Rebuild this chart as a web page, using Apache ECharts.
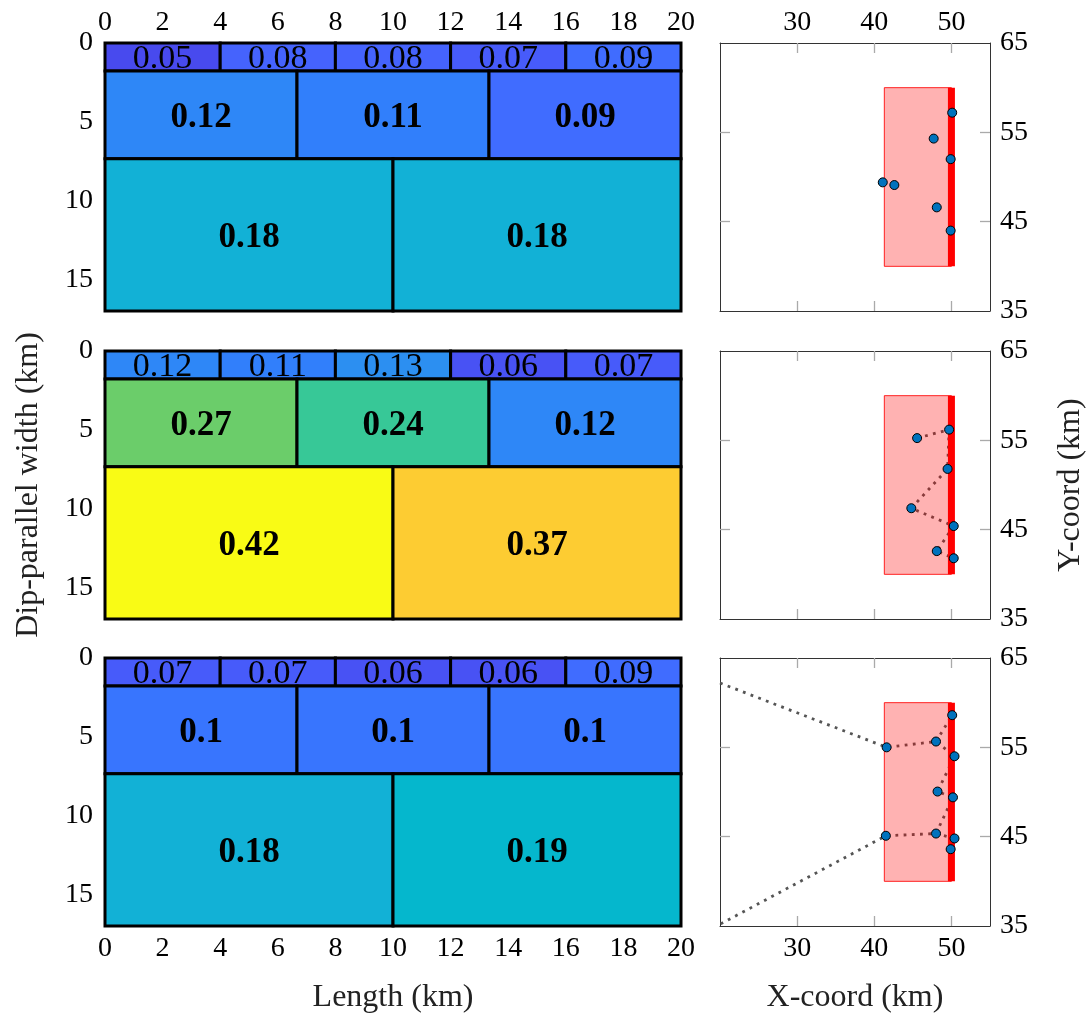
<!DOCTYPE html>
<html><head><meta charset="utf-8">
<script src="https://cdn.jsdelivr.net/npm/echarts@6/dist/echarts.min.js"></script>
<style>html,body{margin:0;padding:0;background:#fff}#c{width:1087px;height:1014px}</style>
</head><body><div id="c"></div><script>
// ---------- data ----------
const lengthEdges = [[0, 4, 8, 12, 16, 20], [0, 20 / 3, 40 / 3, 20], [0, 10, 20]];
const depthEdges = [0, 1.78, 7.35, 17];
const slip1 = [[0.05, 0.08, 0.08, 0.07, 0.09], [0.12, 0.11, 0.09], [0.18, 0.18]];
const slip2 = [[0.12, 0.11, 0.13, 0.06, 0.07], [0.27, 0.24, 0.12], [0.42, 0.37]];
const slip3 = [[0.07, 0.07, 0.06, 0.06, 0.09], [0.1, 0.1, 0.1], [0.18, 0.19]];
const slipRange = [0, 0.42];
const lengthTicks = [0, 2, 4, 6, 8, 10, 12, 14, 16, 18, 20];
const widthTicks = [0, 5, 10, 15];
const xcoordTicks = [30, 40, 50];
const ycoordLabels = [35, 45, 55, 65];
const ycoordTicks = [45, 55];

const faultX = [41.3, 50];
const faultY = [40, 60];
const traceX = 50;

const pts1 = [[50.1, 57.2], [47.7, 54.3], [49.9, 52.0], [41.1, 49.4], [42.6, 49.1], [48.1, 46.6], [49.9, 44.0]];
const pts2 = [[45.55, 55.25], [49.7, 56.2], [49.5, 51.8], [44.8, 47.4], [50.3, 45.4], [48.1, 42.6], [50.3, 41.8]];
const path2 = [[45.55, 55.25], [49.7, 56.2], [49.5, 51.8], [44.8, 47.4], [50.3, 45.4], [48.1, 42.6], [50.3, 41.8]];
const pts3 = [[50.1, 58.6], [48.0, 55.65], [41.6, 55.0], [50.4, 54.0], [48.2, 50.05], [50.2, 49.4], [41.5, 45.1], [48.0, 45.35], [50.4, 44.8], [49.9, 43.6]];
const path3Main = [[20, 62.2], [41.6, 55.0], [48.0, 55.65], [50.4, 54.0], [48.2, 50.05], [50.2, 49.4], [48.0, 45.35], [41.5, 45.1], [20, 35.2]];
const path3BranchA = [[48.0, 55.65], [50.1, 58.6]];
const path3BranchB = [[48.0, 45.35], [50.4, 44.8]];

// parula colormap
const parula = [
[0.2422,0.1504,0.6603],[0.2504,0.1650,0.7076],[0.2578,0.1818,0.7511],[0.2647,0.1978,0.7952],
[0.2706,0.2147,0.8364],[0.2751,0.2342,0.8710],[0.2783,0.2559,0.8991],[0.2803,0.2782,0.9221],
[0.2813,0.3006,0.9414],[0.2810,0.3228,0.9579],[0.2795,0.3447,0.9717],[0.2760,0.3667,0.9829],
[0.2699,0.3892,0.9906],[0.2602,0.4123,0.9952],[0.2440,0.4358,0.9988],[0.2206,0.4603,0.9973],
[0.1963,0.4847,0.9892],[0.1834,0.5074,0.9798],[0.1786,0.5289,0.9682],[0.1764,0.5499,0.9520],
[0.1687,0.5703,0.9359],[0.1540,0.5902,0.9218],[0.1460,0.6091,0.9079],[0.1380,0.6276,0.8973],
[0.1248,0.6459,0.8883],[0.1113,0.6635,0.8763],[0.0952,0.6798,0.8598],[0.0689,0.6948,0.8394],
[0.0297,0.7082,0.8163],[0.0036,0.7203,0.7917],[0.0067,0.7312,0.7660],[0.0433,0.7411,0.7394],
[0.0964,0.7500,0.7120],[0.1408,0.7584,0.6842],[0.1717,0.7670,0.6554],[0.1938,0.7758,0.6251],
[0.2161,0.7843,0.5923],[0.2470,0.7918,0.5567],[0.2906,0.7973,0.5188],[0.3406,0.8008,0.4789],
[0.3909,0.8029,0.4354],[0.4456,0.8024,0.3909],[0.5044,0.7993,0.3480],[0.5616,0.7942,0.3045],
[0.6174,0.7876,0.2612],[0.6720,0.7793,0.2227],[0.7242,0.7698,0.1910],[0.7738,0.7598,0.1646],
[0.8203,0.7498,0.1535],[0.8634,0.7406,0.1596],[0.9035,0.7330,0.1774],[0.9393,0.7288,0.2100],
[0.9728,0.7298,0.2394],[0.9956,0.7434,0.2371],[0.9970,0.7659,0.2199],[0.9952,0.7893,0.2028],
[0.9892,0.8136,0.1885],[0.9786,0.8386,0.1766],[0.9676,0.8639,0.1643],[0.9610,0.8890,0.1537],
[0.9597,0.9135,0.1423],[0.9628,0.9373,0.1265],[0.9691,0.9606,0.1064],[0.9769,0.9839,0.0805]
].map(c => 'rgb(' + c.map(v => Math.round(v * 255)).join(',') + ')');

// ---------- layout ----------
const FONT = 'Liberation Serif';
const tops = [43, 351, 658];
const H = 268;
const LEFT = { left: 105, width: 576 };
const RIGHT = { left: 720, width: 270 };

function buildCells(slip) {
  const out = [];
  slip.forEach((row, r) => row.forEach((v, c) => {
    out.push([lengthEdges[r][c], lengthEdges[r][c + 1], depthEdges[r], depthEdges[r + 1], v, r]);
  }));
  return out;
}

const grids = [];
tops.forEach(t => grids.push({ left: LEFT.left, top: t, width: LEFT.width, height: H, outerBoundsMode: 'none', containLabel: false }));
tops.forEach(t => grids.push({ left: RIGHT.left, top: t, width: RIGHT.width, height: H, outerBoundsMode: 'none', containLabel: false }));

const labelStyle = { color: '#000', fontSize: 28, fontFamily: FONT };
const nameStyle = { color: '#222', fontSize: 32, fontFamily: FONT };
const tickStyle = { show: true, inside: true, length: 10, lineStyle: { color: '#aaa', width: 1.3 } };
const frameLine = { show: true, lineStyle: { color: '#333', width: 1 } };

const xAxes = [], yAxes = [];
// left panels
for (let i = 0; i < 3; i++) {
  xAxes.push({
    type: 'value', gridIndex: i, min: 0, max: 20, interval: 2,
    position: i === 0 ? 'top' : 'bottom',
    axisLine: { show: false }, axisTick: { show: false }, splitLine: { show: false },
    axisLabel: Object.assign({ show: i !== 1, margin: i === 0 ? 6 : 9, customValues: lengthTicks }, labelStyle),
    name: i === 2 ? 'Length (km)' : '', nameLocation: 'middle', nameGap: 56, nameTextStyle: nameStyle
  });
  yAxes.push({
    type: 'value', gridIndex: i, min: 0, max: 17, interval: 5, inverse: true,
    axisLine: { show: false }, axisTick: { show: false }, splitLine: { show: false },
    axisLabel: Object.assign({ margin: 12, customValues: widthTicks, formatter: v => (widthTicks.indexOf(v) >= 0 ? v : '') }, labelStyle),
    name: i === 1 ? 'Dip-parallel width (km)' : '', nameLocation: 'middle', nameGap: 60, nameTextStyle: nameStyle
  });
}
// right panels: bottom/top x axes, right/left y axes
for (let i = 0; i < 3; i++) {
  const g = 3 + i;
  xAxes.push({
    type: 'value', gridIndex: g, min: 20, max: 55, interval: 10, position: 'bottom',
    axisLine: frameLine, axisTick: Object.assign({ customValues: xcoordTicks }, tickStyle), splitLine: { show: false },
    axisLabel: Object.assign({ show: i === 2, margin: 9, customValues: xcoordTicks }, labelStyle),
    name: i === 2 ? 'X-coord (km)' : '', nameLocation: 'middle', nameGap: 56, nameTextStyle: nameStyle
  });
  xAxes.push({
    type: 'value', gridIndex: g, min: 20, max: 55, interval: 10, position: 'top',
    axisLine: frameLine, axisTick: Object.assign({ customValues: xcoordTicks }, tickStyle), splitLine: { show: false },
    axisLabel: Object.assign({ show: i === 0, margin: 6, customValues: xcoordTicks }, labelStyle)
  });
  yAxes.push({
    type: 'value', gridIndex: g, min: 35, max: 65, interval: 10, position: 'right',
    axisLine: frameLine, axisTick: Object.assign({ customValues: ycoordTicks }, tickStyle), splitLine: { show: false },
    axisLabel: Object.assign({ margin: 10, customValues: ycoordLabels }, labelStyle),
    name: i === 1 ? 'Y-coord (km)' : '', nameLocation: 'middle', nameGap: 65, nameRotate: 90, nameTextStyle: nameStyle
  });
  yAxes.push({
    type: 'value', gridIndex: g, min: 35, max: 65, interval: 10, position: 'left',
    axisLine: frameLine, axisTick: Object.assign({ customValues: ycoordTicks }, tickStyle), splitLine: { show: false },
    axisLabel: { show: false }
  });
}

function cellRender(params, api) {
  const x0 = api.value(0), x1 = api.value(1), y0 = api.value(2), y1 = api.value(3);
  const v = api.value(4), r = api.value(5);
  const a = api.coord([x0, y0]), b = api.coord([x1, y1]);
  return {
    type: 'group', children: [
      { type: 'rect', shape: { x: a[0], y: a[1], width: b[0] - a[0], height: b[1] - a[1] },
        style: { fill: api.visual('color'), stroke: '#000', lineWidth: 3 }, z2: 1 },
      { type: 'text', x: (a[0] + b[0]) / 2, y: (a[1] + b[1]) / 2 + (r === 0 ? 2 : 3), z2: 100,
        style: { text: String(v), fontSize: r === 0 ? 34 : 35, fontWeight: r === 0 ? 'normal' : 'bold', fontFamily: FONT,
          fill: '#000', align: 'center', verticalAlign: 'middle' } }
    ]
  };
}
function faultRender(params, api) {
  const a = api.coord([api.value(0), api.value(3)]), b = api.coord([api.value(1), api.value(2)]);
  return { type: 'rect', shape: { x: a[0], y: a[1], width: b[0] - a[0], height: b[1] - a[1] },
    style: { fill: 'rgba(255,0,0,0.3)', stroke: 'rgba(255,0,0,0.85)', lineWidth: 1 } };
}

const series = [];
[slip1, slip2, slip3].forEach((s, i) => series.push({
  type: 'custom', xAxisIndex: i, yAxisIndex: i, data: buildCells(s), renderItem: cellRender, z: 2
}));
const dotted = { color: '#555', width: 2.8, type: [2.8, 5.4], cap: 'butt' };
const paths = [[], [path2], [path3Main, path3BranchA, path3BranchB]];
const ptsAll = [pts1, pts2, pts3];
for (let i = 0; i < 3; i++) {
  const xi = 3 + 2 * i, yi = 3 + 2 * i;
  paths[i].forEach(p => series.push({ type: 'line', xAxisIndex: xi, yAxisIndex: yi, data: p,
    symbol: 'none', lineStyle: dotted, z: 1, clip: true }));
  series.push({ type: 'custom', xAxisIndex: xi, yAxisIndex: yi, renderItem: faultRender,
    data: [[faultX[0], faultX[1], faultY[0], faultY[1]]], z: 2 });
  series.push({ type: 'line', xAxisIndex: xi, yAxisIndex: yi, data: [[traceX, faultY[0]], [traceX, faultY[1]]],
    symbol: 'none', lineStyle: { color: '#ff0000', width: 7, cap: 'butt' }, z: 3 });
  series.push({ type: 'scatter', xAxisIndex: xi, yAxisIndex: yi, data: ptsAll[i], symbolSize: 9,
    itemStyle: { color: '#0072bd', borderColor: '#000', borderWidth: 1, opacity: 1 }, z: 4 });
}

const chart = echarts.init(document.getElementById('c'), null, { renderer: 'canvas' });
chart.setOption({
  animation: false,
  backgroundColor: '#fff',
  textStyle: { fontFamily: FONT },
  visualMap: { type: 'continuous', show: false, min: slipRange[0], max: slipRange[1], dimension: 4,
    seriesIndex: [0, 1, 2], inRange: { color: parula } },
  grid: grids, xAxis: xAxes, yAxis: yAxes, series: series
});
</script></body></html>
